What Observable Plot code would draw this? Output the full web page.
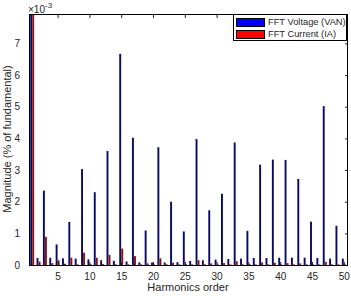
<!DOCTYPE html>
<html><head><meta charset="utf-8">
<script src="https://cdn.jsdelivr.net/npm/d3@7"></script>
<script src="https://cdn.jsdelivr.net/npm/@observablehq/plot@0.6"></script>
<style>
body{margin:0;background:#fff}
#wrap{position:relative;width:351px;height:296px;font-family:"Liberation Sans",Arial,sans-serif;color:#262626;overflow:hidden}
.ov{position:absolute;white-space:nowrap}
</style>
</head><body><div id="wrap"></div>
<script>
const harmonics = [1,2,3,4,5,6,7,8,9,10,11,12,13,14,15,16,17,18,19,20,21,22,23,24,25,26,27,28,29,30,31,32,33,34,35,36,37,38,39,40,41,42,43,44,45,46,47,48,49,50];
// magnitudes in units of 1e-3 (% of fundamental); harmonic 1 runs off the top
const voltage = [100,0.22,2.35,0.23,0.65,0.21,1.36,0.20,3.03,0.18,2.30,0.15,3.60,0.13,6.67,0.11,4.02,0.08,1.09,0.08,3.72,0.08,2.00,0.09,1.06,0.13,3.98,0.15,1.73,0.17,2.25,0.19,3.87,0.20,1.08,0.22,3.17,0.22,3.33,0.23,3.32,0.23,2.72,0.23,1.37,0.22,5.02,0.20,1.24,0.20];
const current = [100,0.11,0.89,0.06,0.15,0.04,0.23,0.02,0.39,0.03,0.23,0.03,0.32,0.02,0.52,0.02,0.28,0.02,0.05,0.02,0.21,0.02,0.07,0.02,0.03,0.02,0.15,0.02,0.05,0.02,0.06,0.02,0.12,0.02,0.03,0.02,0.08,0.02,0.07,0.02,0.06,0.02,0.05,0.02,0.02,0.02,0.10,0.02,0.02,0.02];
const seriesNames = ["FFT Voltage (VAN)","FFT Current (IA)"];
const xTicks = [5,10,15,20,25,30,35,40,45,50];
const yTicks = [0,1,2,3,4,5,6,7];

const vRows = harmonics.map((h,i)=>({h, v: voltage[i], x1: h - 0.31, x2: h - 0.01}));
const cRows = harmonics.map((h,i)=>({h, v: current[i], x1: h + 0.01, x2: h + 0.31}));

const chart = Plot.plot({
  width: 351, height: 296,
  marginLeft: 29, marginRight: 4, marginTop: 14, marginBottom: 31,
  style: {fontFamily: "Liberation Sans, Arial, sans-serif", fontSize: "10px", color: "#262626", background: "white"},
  x: {domain: [0.5, 50.5]},
  y: {domain: [0, 7.93]},
  marks: [
    Plot.rect(vRows, {x1: "x1", x2: "x2", y1: d => 0, y2: "v", fill: "#0a0a66", clip: true}),
    Plot.rect(cRows, {x1: "x1", x2: "x2", y1: d => 0, y2: "v", fill: "#8a1010", clip: true}),
    Plot.axisX(xTicks, {anchor: "bottom", tickSize: -3, tickPadding: 10, label: null}),
    Plot.axisX(xTicks, {anchor: "top", tickSize: -3, text: null, label: null}),
    Plot.axisY(yTicks, {anchor: "left", tickSize: -3, tickPadding: 12.5, label: null}),
    Plot.axisY(yTicks, {anchor: "right", tickSize: -3, text: null, label: null}),
    Plot.frame({stroke: "#000"})
  ]
});
const wrap = document.getElementById("wrap");
wrap.appendChild(chart);

function ov(html, style){ const d=document.createElement("div"); d.className="ov"; d.innerHTML=html; Object.assign(d.style, style); wrap.appendChild(d); return d; }
ov("×10<sup style='font-size:8px;position:relative;top:-1px'>-3</sup>", {left:"28px", top:"1px", fontSize:"10px", lineHeight:"12px"});
ov("Harmonics order", {left:"0", width:"376px", textAlign:"center", top:"281px", fontSize:"11px"});
ov("Magnitude (% of fundamental)", {left:"7px", top:"139px", fontSize:"11px", transform:"translate(-50%,-50%) rotate(-90deg)"});
const leg = ov("", {left:"233px", top:"14px", width:"114px", height:"27px", border:"1px solid #000", background:"#fff", boxSizing:"border-box"});
const colors = ["#0000ff","#ff0000"];
seriesNames.forEach((s,i)=>{
  const row = document.createElement("div");
  row.style.cssText = `position:absolute;left:2px;top:${2+i*12}px;height:10px;display:flex;align-items:center;font-size:9.3px;`;
  row.innerHTML = `<span style="display:inline-block;width:29px;height:9px;background:${colors[i]};border:1px solid #000;box-sizing:border-box;margin-right:3px"></span><span>${s}</span>`;
  leg.appendChild(row);
});
</script>
</body></html>
